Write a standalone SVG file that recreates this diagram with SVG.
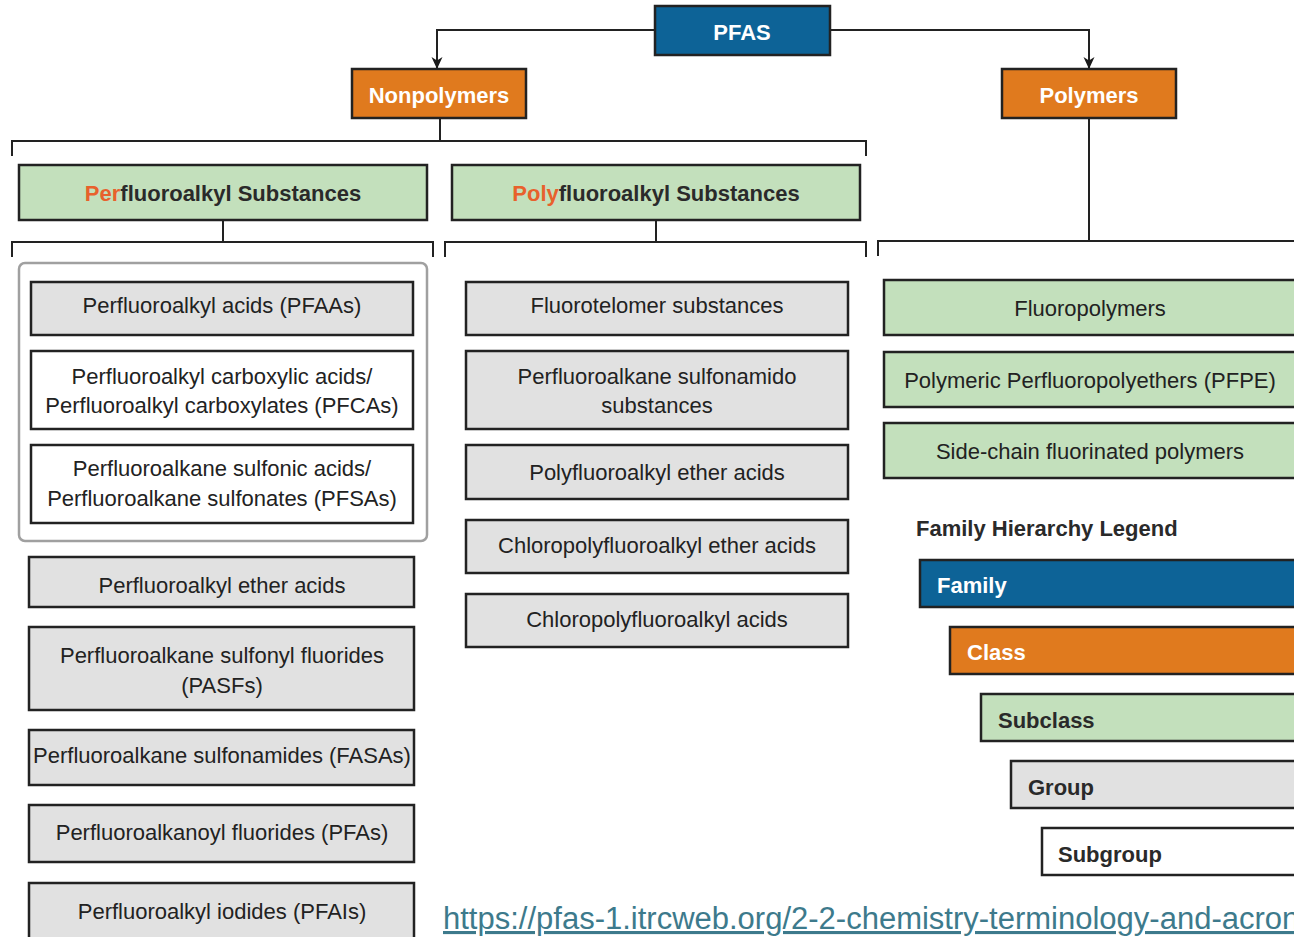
<svg xmlns="http://www.w3.org/2000/svg" width="1294" height="937" viewBox="0 0 1294 937">
  <defs>
    <marker id="arrow" viewBox="0 0 12 12" refX="11" refY="6" markerWidth="13" markerHeight="12" orient="auto" markerUnits="userSpaceOnUse">
      <path d="M0,0.5 L12,6 L0,11.5 L3.5,6 z" fill="#1a1a1a"/>
    </marker>
    <style>
      .box { stroke: #222; stroke-width: 2.5; }
      .family { fill: #0d6397; }
      .class { fill: #e07a1e; }
      .subclass { fill: #c3e0bc; }
      .group { fill: #e1e1e1; }
      .subgroup { fill: #ffffff; }
      .hd { font-family: "Liberation Sans", Arial, sans-serif; font-weight: bold; font-size: 22px; fill: #ffffff; text-anchor: middle; }
      .sub { font-family: "Liberation Sans", Arial, sans-serif; font-weight: bold; font-size: 22px; fill: #2a2a2a; text-anchor: middle; }
      .hl { fill: #e8612c; }
      .t { font-family: "Liberation Sans", Arial, sans-serif; font-size: 22px; fill: #222; text-anchor: middle; }
      .lg { font-family: "Liberation Sans", Arial, sans-serif; font-weight: bold; font-size: 22px; }
      .conn { fill: none; stroke: #222; stroke-width: 2; }
      .url { font-family: "Liberation Sans", Arial, sans-serif; font-size: 31px; fill: #3d7a8c; text-decoration: underline; }
    </style>
  </defs>

  <rect width="1294" height="937" fill="#ffffff"/>

  <!-- connectors -->
  <g id="connectors">
    <path class="conn" d="M655,30 H437 V68" marker-end="url(#arrow)"/>
    <path class="conn" d="M830,30 H1089 V68" marker-end="url(#arrow)"/>
    <path class="conn" d="M440,118 V141"/>
    <path class="conn" d="M12,156 V141 H866 V156"/>
    <path class="conn" d="M223,220 V242"/>
    <path class="conn" d="M12,257 V242 H433 V257"/>
    <path class="conn" d="M656,220 V242"/>
    <path class="conn" d="M445,257 V242 H866 V257"/>
    <path class="conn" d="M1089,118 V241"/>
    <path class="conn" d="M878,256 V241 H1296"/>
  </g>

  <!-- family -->
  <g id="pfas">
    <rect class="box family" x="655" y="6" width="175" height="49"/>
    <text class="hd" x="742" y="40">PFAS</text>
  </g>

  <!-- classes -->
  <g id="nonpolymers">
    <rect class="box class" x="352" y="69" width="174" height="49"/>
    <text class="hd" x="439" y="103">Nonpolymers</text>
  </g>
  <g id="polymers">
    <rect class="box class" x="1002" y="69" width="174" height="49"/>
    <text class="hd" x="1089" y="103">Polymers</text>
  </g>

  <!-- subclasses -->
  <g id="perfluoroalkyl">
    <rect class="box subclass" x="19" y="165" width="408" height="55"/>
    <text class="sub" x="223" y="201"><tspan class="hl">Per</tspan>fluoroalkyl Substances</text>
  </g>
  <g id="polyfluoroalkyl">
    <rect class="box subclass" x="452" y="165" width="408" height="55"/>
    <text class="sub" x="656" y="201"><tspan class="hl">Poly</tspan>fluoroalkyl Substances</text>
  </g>

  <!-- PFAA grouping frame -->
  <rect x="19" y="263" width="408" height="278" rx="6" fill="none" stroke="#a0a0a0" stroke-width="2.5"/>

  <!-- perfluoroalkyl groups -->
  <g id="pfaas">
    <rect class="box group" x="31" y="282" width="382" height="53"/>
    <text class="t" x="222" y="313">Perfluoroalkyl acids (PFAAs)</text>
  </g>
  <g id="pfcas">
    <rect class="box subgroup" x="31" y="351" width="382" height="78"/>
    <text class="t" x="222" y="384">Perfluoroalkyl carboxylic acids/</text>
    <text class="t" x="222" y="413">Perfluoroalkyl carboxylates (PFCAs)</text>
  </g>
  <g id="pfsas">
    <rect class="box subgroup" x="31" y="445" width="382" height="78"/>
    <text class="t" x="222" y="476">Perfluoroalkane sulfonic acids/</text>
    <text class="t" x="222" y="506">Perfluoroalkane sulfonates (PFSAs)</text>
  </g>
  <g id="pfeas">
    <rect class="box group" x="29" y="557" width="385" height="50"/>
    <text class="t" x="222" y="593">Perfluoroalkyl ether acids</text>
  </g>
  <g id="pasfs">
    <rect class="box group" x="29" y="627" width="385" height="83"/>
    <text class="t" x="222" y="663">Perfluoroalkane sulfonyl fluorides</text>
    <text class="t" x="222" y="693">(PASFs)</text>
  </g>
  <g id="fasas">
    <rect class="box group" x="29" y="730" width="385" height="55"/>
    <text class="t" x="222" y="763">Perfluoroalkane sulfonamides (FASAs)</text>
  </g>
  <g id="pfas-fluorides">
    <rect class="box group" x="29" y="805" width="385" height="57"/>
    <text class="t" x="222" y="840">Perfluoroalkanoyl fluorides (PFAs)</text>
  </g>
  <g id="pfais">
    <rect class="box group" x="29" y="883" width="385" height="60"/>
    <text class="t" x="222" y="919">Perfluoroalkyl iodides (PFAIs)</text>
  </g>

  <!-- polyfluoroalkyl groups -->
  <g id="fluorotelomer">
    <rect class="box group" x="466" y="282" width="382" height="53"/>
    <text class="t" x="657" y="313">Fluorotelomer substances</text>
  </g>
  <g id="sulfonamido">
    <rect class="box group" x="466" y="351" width="382" height="78"/>
    <text class="t" x="657" y="384">Perfluoroalkane sulfonamido</text>
    <text class="t" x="657" y="413">substances</text>
  </g>
  <g id="poly-ether">
    <rect class="box group" x="466" y="445" width="382" height="54"/>
    <text class="t" x="657" y="480">Polyfluoroalkyl ether acids</text>
  </g>
  <g id="chloro-ether">
    <rect class="box group" x="466" y="520" width="382" height="53"/>
    <text class="t" x="657" y="553">Chloropolyfluoroalkyl ether acids</text>
  </g>
  <g id="chloro-acids">
    <rect class="box group" x="466" y="594" width="382" height="53"/>
    <text class="t" x="657" y="627">Chloropolyfluoroalkyl acids</text>
  </g>

  <!-- polymer subclasses -->
  <g id="fluoropolymers">
    <rect class="box subclass" x="884" y="280" width="414" height="55"/>
    <text class="t" x="1090" y="316">Fluoropolymers</text>
  </g>
  <g id="pfpe">
    <rect class="box subclass" x="884" y="352" width="414" height="55"/>
    <text class="t" x="1090" y="388">Polymeric Perfluoropolyethers (PFPE)</text>
  </g>
  <g id="side-chain">
    <rect class="box subclass" x="884" y="423" width="414" height="55"/>
    <text class="t" x="1090" y="459">Side-chain fluorinated polymers</text>
  </g>

  <!-- legend -->
  <g id="legend">
    <text class="lg" x="916" y="536" fill="#2a2a2a">Family Hierarchy Legend</text>
    <rect class="box family" x="920" y="560" width="380" height="47"/>
    <text class="lg" x="937" y="593" fill="#ffffff">Family</text>
    <rect class="box class" x="950" y="627" width="350" height="47"/>
    <text class="lg" x="967" y="660" fill="#ffffff">Class</text>
    <rect class="box subclass" x="981" y="694" width="319" height="47"/>
    <text class="lg" x="998" y="728" fill="#2a2a2a">Subclass</text>
    <rect class="box group" x="1011" y="761" width="289" height="47"/>
    <text class="lg" x="1028" y="795" fill="#2a2a2a">Group</text>
    <rect class="box subgroup" x="1042" y="828" width="258" height="47"/>
    <text class="lg" x="1058" y="862" fill="#2a2a2a">Subgroup</text>
  </g>

  <!-- source link -->
  <text class="url" x="443" y="929">https://pfas-1.itrcweb.org/2-2-chemistry-terminology-and-acronyms/</text>
</svg>
